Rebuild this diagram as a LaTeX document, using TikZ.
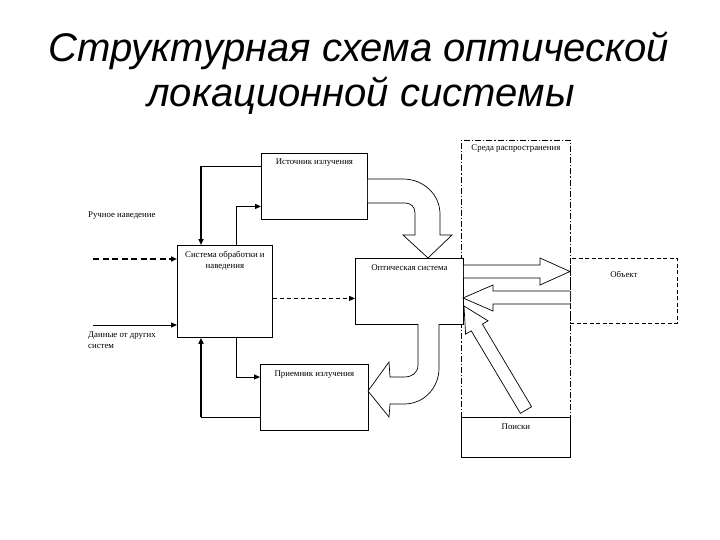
\documentclass[tikz,border=0pt]{standalone}
\usepackage{fontspec}
\setmainfont{Liberation Serif}
\newfontfamily\titlefont{Liberation Sans}
\usetikzlibrary{arrows.meta,calc}
\begin{document}
\begin{tikzpicture}[x=1pt,y=-1pt,
  box/.style={draw,line width=0.8pt,fill=white,anchor=north west,inner sep=0pt},
  envbox/.style={draw,line width=0.8pt,anchor=north west,inner sep=0pt,dash pattern=on 6pt off 2pt on 1.2pt off 2pt},
  objbox/.style={draw,line width=0.8pt,anchor=north west,inner sep=0pt,dash pattern=on 4pt off 2.5pt},
  lbl/.style={font=\fontsize{8.8}{11}\selectfont,inner sep=0pt,anchor=base},
  lblL/.style={font=\fontsize{8.8}{11}\selectfont,inner sep=0pt,anchor=base west},
  ttl/.style={font=\titlefont\itshape\fontsize{40}{45}\selectfont,inner sep=0pt,anchor=base},
  thin/.style={line width=0.8pt},
  conn/.style={line width=0.8pt,-{Triangle[length=6pt,width=5pt]}},
  thk/.style={line width=1.6pt,-{Triangle[length=6pt,width=5pt]}},
  fat/.style={draw,line width=0.7pt,fill=white,line join=miter}]
\useasboundingbox (0,0) rectangle (720,540);

% title
\node[ttl] (t1) at (359,62) {Структурная схема оптической};
\node[ttl] (t2) at (361,107) {локационной системы};

% environment
\node[envbox,minimum width=109pt,minimum height=317pt] (env) at (461,140) {};
\node[box,minimum width=109pt,minimum height=40pt] (srch) at (461,417) {};
\node[objbox,minimum width=107pt,minimum height=65pt] (obj) at (570,258) {};

% blocks
\node[box,minimum width=106pt,minimum height=66pt] (src) at (261,153) {};
\node[box,minimum width=95pt,minimum height=92pt] (proc) at (177,245) {};
\node[box,minimum width=108pt,minimum height=66pt] (opt) at (355,258) {};
\node[box,minimum width=108pt,minimum height=66pt] (rcv) at (260,364) {};

% connector points
\coordinate (rin) at (93,259);
\coordinate (din) at (93,325);
\coordinate (a1) at ($(src.north west)!0.2!(src.south west)$);
\coordinate (a2) at ($(proc.north west)+(24,0)$);
\coordinate (b1) at ($(proc.north west)+(59,0)$);
\coordinate (b2) at ($(src.north west)!0.8!(src.south west)$);
\coordinate (c1) at ($(proc.south west)+(59,0)$);
\coordinate (c2) at ($(rcv.north west)+(0,13)$);
\coordinate (d1) at ($(rcv.north west)+(0,53)$);
\coordinate (d2) at ($(proc.south west)+(24,0)$);

% connectors
\draw[thin] (a1) -- (a1 -| a2);
\draw[thk] (a1 -| a2) -- (a2);
\draw[thin] (b1) -- (b1 |- b2);
\draw[thk] (b1 |- b2) -- (b2);
\draw[thk,dash pattern=on 6pt off 3.5pt] (rin) -- (rin -| proc.west);
\draw[conn] (din) -- (din -| proc.west);
\draw[conn,dash pattern=on 4pt off 3pt] ($(proc.east)+(0,7)$) -- ($(opt.west)+(0,7)$);
\draw[conn] (c1) |- (c2);
\draw[thin] (d1) -- (d1 -| d2);
\draw[thk] (d1 -| d2) -- (d2);

% fat arrows
\draw[fat] (src.east |- 0,179) -- (403,179) .. controls (424,179) and (440,195) .. (440,214)
  -- (440,235) -- (452,235) -- (428,258) -- (403,235) -- (415,235) -- (415,213)
  .. controls (415,207) and (411,203) .. (405,203) -- (src.east |- 0,203);
\draw[fat] (418,324) -- (418,365) .. controls (418,373) and (412,377) .. (404,377)
  -- (390,377) -- (389,362) -- (368,391) -- (389,417) -- (390,404) -- (404,404)
  .. controls (424,404) and (439,388) .. (439,368) -- (439,324);
\draw[fat] (opt.east |- 0,265) -- (540,265) -- (540,258) -- (570,271.5) -- (540,285)
  -- (540,278) -- (opt.east |- 0,278);
\draw[fat] (obj.west |- 0,291) -- (493,291) -- (493,285) -- (463,298) -- (493,311)
  -- (493,304) -- (obj.west |- 0,304);
\draw[fat] (531.6,406.7) -- (482.4,324.2) -- (488,320.8) -- (464,306) -- (465.6,334.2)
  -- (471.2,330.8) -- (520.4,413.3) -- cycle;

% labels
\node[lbl] (envT) at ($(env.north)+(0,11)$) {Среда распространения};
\node[lbl] (srcT) at ($(src.north)+(0,12)$) {Источник излучения};
\node[lbl,align=center] (procT) at ($(proc.north)+(0,23)$) {Система обработки и\\наведения};
\node[lbl] (optT) at ($(opt.north)+(0,12)$) {Оптическая система};
\node[lbl] (objT) at ($(obj.north)+(0,19)$) {Объект};
\node[lbl] (rcvT) at ($(rcv.north)+(0,12)$) {Приемник излучения};
\node[lbl] (srchT) at ($(srch.north)+(0,12)$) {Поиски};
\node[lblL] (manT) at (88,218) {Ручное наведение};
\node[lblL,align=left] (datT) at (88,348) {Данные от других\\систем};
\end{tikzpicture}
\end{document}
